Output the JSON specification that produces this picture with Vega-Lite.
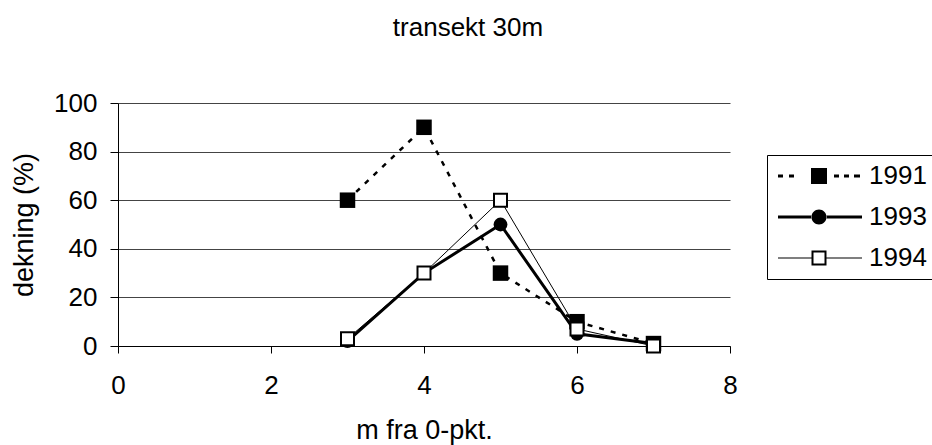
{
  "$schema": "https://vega.github.io/schema/vega-lite/v6.json",
  "width": 612,
  "height": 243,
  "autosize": {"type": "none"},
  "padding": {"left": 118, "top": 103, "right": 202, "bottom": 99},
  "background": "white",
  "config": {
    "font": "Liberation Sans",
    "view": {"stroke": null},
    "legend": {
      "symbolStrokeWidth": 0,
      "symbolFillColor": "black",
      "symbolOpacity": 1
    }
  },
  "title": {
    "text": "transekt 30m",
    "fontSize": 26,
    "fontWeight": "normal",
    "font": "Liberation Sans",
    "color": "black",
    "anchor": "middle",
    "dx": 44,
    "baseline": "alphabetic",
    "offset": 28
  },
  "data": {
    "values": [
      {"x": 3, "y": 60, "series": "1991"},
      {"x": 4, "y": 90, "series": "1991"},
      {"x": 5, "y": 30, "series": "1991"},
      {"x": 6, "y": 10, "series": "1991"},
      {"x": 7, "y": 1, "series": "1991"},
      {"x": 3, "y": 2, "series": "1993"},
      {"x": 4, "y": 30, "series": "1993"},
      {"x": 5, "y": 50, "series": "1993"},
      {"x": 6, "y": 5, "series": "1993"},
      {"x": 7, "y": 1, "series": "1993"},
      {"x": 3, "y": 3, "series": "1994"},
      {"x": 4, "y": 30, "series": "1994"},
      {"x": 5, "y": 60, "series": "1994"},
      {"x": 6, "y": 7, "series": "1994"},
      {"x": 7, "y": 0, "series": "1994"}
    ]
  },
  "encoding": {
    "x": {
      "field": "x",
      "type": "quantitative",
      "scale": {"domain": [0, 8], "nice": false, "zero": false},
      "axis": {
        "values": [0, 2, 4, 6, 8],
        "grid": false,
        "tickSize": 7,
        "tickColor": "black",
        "domainColor": "black",
        "labelFontSize": 26,
        "labelColor": "black",
        "labelPadding": 19,
        "labelFlush": false,
        "title": "m fra 0-pkt.",
        "titleFontSize": 27,
        "titleFontWeight": "normal",
        "titleColor": "black",
        "titleBaseline": "alphabetic",
        "titleY": 92
      }
    },
    "y": {
      "field": "y",
      "type": "quantitative",
      "scale": {"domain": [0, 100], "nice": false},
      "axis": {
        "values": [0, 20, 40, 60, 80, 100],
        "grid": true,
        "gridColor": "#444444",
        "gridWidth": 1,
        "tickSize": 8,
        "tickColor": "black",
        "domainColor": "black",
        "labelFontSize": 26,
        "labelColor": "black",
        "labelPadding": 13,
        "labelFlush": false,
        "title": "dekning (%)",
        "titleFontSize": 27,
        "titleFontWeight": "normal",
        "titleColor": "black",
        "titleAngle": 270,
        "titleAlign": "center",
        "titleBaseline": "alphabetic",
        "titleX": -86,
        "titleY": 121.5
      }
    }
  },
  "layer": [
    {
      "transform": [{"filter": "datum.series == '1991'"}],
      "mark": {
        "type": "line",
        "color": "black",
        "strokeWidth": 2.5,
        "strokeDash": [5, 7],
        "point": {"shape": "square", "filled": true, "color": "black", "size": 240, "strokeWidth": 0}
      }
    },
    {
      "transform": [{"filter": "datum.series == '1993'"}],
      "mark": {
        "type": "line",
        "color": "black",
        "strokeWidth": 3,
        "point": {"shape": "circle", "filled": true, "color": "black", "size": 190, "strokeWidth": 0}
      }
    },
    {
      "transform": [{"filter": "datum.series == '1994'"}],
      "mark": {
        "type": "line",
        "color": "black",
        "strokeWidth": 1,
        "point": {"shape": "square", "filled": true, "fill": "white", "stroke": "black", "strokeWidth": 2, "size": 169}
      }
    },
    {
      "mark": {"type": "point", "filled": true, "color": "black", "opacity": 0, "size": 400, "strokeWidth": 0},
      "encoding": {
        "shape": {
          "field": "series",
          "type": "nominal",
          "scale": {
            "domain": ["1991", "1993", "1994"],
            "range": [
              "M-1,-0.14H-0.5V0.14H-1Z M0.1,-0.14H0.6V0.14H0.1Z M2.3,-0.8H3.9V0.8H2.3Z M4.6,-0.14H5.1V0.14H4.6Z M5.6,-0.14H6.1V0.14H5.6Z M6.6,-0.14H7.2V0.14H6.6Z",
              "M-1,-0.15H2.4V0.15H-1Z M3.8,-0.15H7.4V0.15H3.8Z M2.35,0A0.75,0.75 0 1,0 3.85,0A0.75,0.75 0 1,0 2.35,0Z",
              "M-1,-0.05H2.35V0.05H-1Z M3.85,-0.05H7.4V0.05H3.85Z M2.35,-0.75H3.85V0.75H2.35Z M2.55,-0.55V0.55H3.65V-0.55Z"
            ]
          },
          "legend": {
            "title": null,
            "orient": "none",
            "legendX": 649,
            "legendY": 52,
            "padding": 8,
            "rowPadding": 15,
            "labelOffset": 68,
            "labelFontSize": 26,
            "labelColor": "black",
            "strokeColor": "black",
            "fillColor": "white",
            "symbolSize": 400,
            "symbolStrokeWidth": 0,
            "symbolFillColor": "black",
            "symbolOpacity": 1
          }
        }
      }
    }
  ]
}
